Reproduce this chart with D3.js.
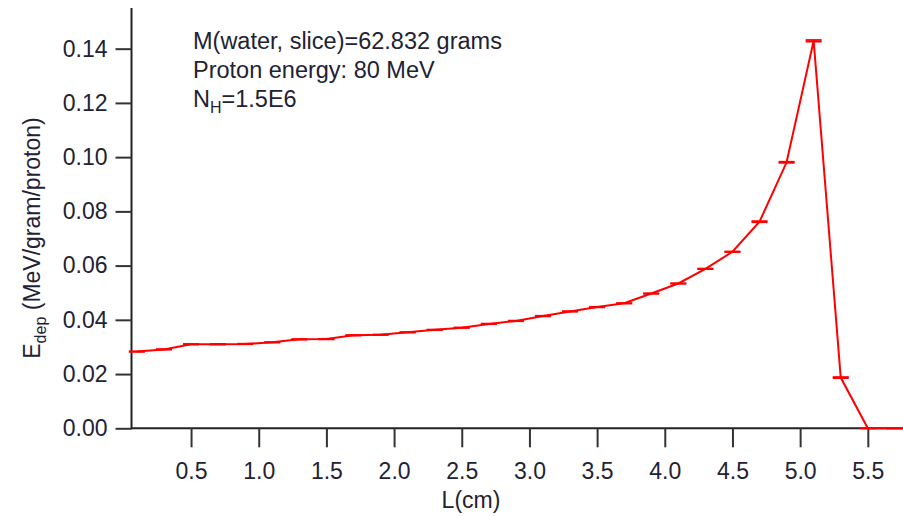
<!DOCTYPE html>
<html>
<head>
<meta charset="utf-8">
<script src="https://cdn.jsdelivr.net/npm/d3@7"></script>
<style>
  html, body { margin: 0; padding: 0; background: #fff; }
  svg { display: block; }
  text { font-family: "Liberation Sans", Arial, sans-serif; fill: #222233; }
</style>
</head>
<body>
<svg id="chart" width="903" height="516"></svg>
<script>
// Depth L (cm) of each slice centre
const depth = [0.1, 0.3, 0.5, 0.7, 0.9, 1.1, 1.3, 1.5, 1.7, 1.9, 2.1, 2.3, 2.5, 2.7, 2.9,
               3.1, 3.3, 3.5, 3.7, 3.9, 4.1, 4.3, 4.5, 4.7, 4.9, 5.1, 5.3, 5.5, 5.7, 5.9];
// Deposited energy (MeV/gram/proton)
const edep = [0.0283, 0.0291, 0.0310, 0.0310, 0.0311, 0.0317, 0.0328, 0.0329, 0.0343, 0.0345,
              0.0354, 0.0363, 0.0371, 0.0385, 0.0396, 0.0414, 0.0431, 0.0447, 0.0461, 0.0497,
              0.0534, 0.0588, 0.0651, 0.0762, 0.0981, 0.1429, 0.0187, 0.0000, 0.0000, 0.0000];
// Statistical error on each value
const edepErr = [0.0001, 0.0001, 0.0001, 0.0001, 0.0001, 0.0001, 0.0001, 0.0001, 0.0001, 0.0001,
                 0.0001, 0.0001, 0.0001, 0.0001, 0.0001, 0.0001, 0.0001, 0.0001, 0.0001, 0.0001,
                 0.0001, 0.0001, 0.0001, 0.0002, 0.0002, 0.0003, 0.0002, 0.0, 0.0, 0.0];
const xTicks = [0.5, 1.0, 1.5, 2.0, 2.5, 3.0, 3.5, 4.0, 4.5, 5.0, 5.5];
const yTicks = [0.00, 0.02, 0.04, 0.06, 0.08, 0.10, 0.12, 0.14];
const annotation = ["M(water, slice)=62.832 grams", "Proton energy: 80 MeV"];

const svg = d3.select("#chart");
const pLeft = 131.5, pRight = 903, pTop = 8, pBottom = 428.3;

const x = d3.scaleLinear().domain([0.06, 5.76]).range([pLeft, pRight]);
const y = d3.scaleLinear().domain([0, 0.155]).range([pBottom, pTop]);

const data = depth.map((d, i) => ({x: d, y: edep[i], e: edepErr[i]}));

// Axes
const xAxis = d3.axisBottom(x).tickValues(xTicks).tickFormat(d3.format(".1f"))
  .tickSize(19).tickPadding(15).tickSizeOuter(0);
const yAxis = d3.axisLeft(y).tickValues(yTicks).tickFormat(d3.format(".2f"))
  .tickSize(16).tickPadding(8).tickSizeOuter(0);

const gx = svg.append("g").attr("transform", `translate(0,${pBottom})`).call(xAxis);
const gy = svg.append("g").attr("transform", `translate(${pLeft},0)`).call(yAxis);
[gx, gy].forEach(g => {
  g.select(".domain").attr("stroke", "#222").attr("stroke-width", 2);
  g.selectAll(".tick line").attr("stroke", "#333").attr("stroke-width", 2);
  g.selectAll(".tick text").style("font-size", "23px").attr("fill", "#222233")
    .style("font-family", "'Liberation Sans', Arial, sans-serif");
});
gx.select(".domain").attr("d", `M${pLeft},0H${pRight}`);
gy.select(".domain").attr("d", `M0,${pTop}V${pBottom + 1}`);

// Data line
svg.append("path")
  .datum(data)
  .attr("fill", "none")
  .attr("stroke", "#ff0000")
  .attr("stroke-width", 2)
  .attr("d", d3.line().x(d => x(d.x)).y(d => y(d.y)));

// Error bars with caps
const eb = svg.append("g").attr("stroke", "#ff0000").attr("stroke-width", 1.8);
data.forEach(d => {
  const cx = x(d.x), y1 = y(d.y + d.e), y2 = y(d.y - d.e);
  eb.append("line").attr("x1", cx).attr("x2", cx).attr("y1", y1).attr("y2", y2);
  eb.append("line").attr("x1", cx - 8).attr("x2", cx + 8).attr("y1", y1).attr("y2", y1);
  eb.append("line").attr("x1", cx - 8).attr("x2", cx + 8).attr("y1", y2).attr("y2", y2);
});

// Axis titles
svg.append("text")
  .attr("x", 471).attr("y", 508)
  .attr("text-anchor", "middle")
  .style("font-size", "23px")
  .text("L(cm)");

const yl = svg.append("text")
  .attr("transform", "translate(40,238) rotate(-90)")
  .attr("text-anchor", "middle")
  .style("font-size", "23px");
yl.append("tspan").text("E");
yl.append("tspan").attr("dy", 6).style("font-size", "16px").text("dep");
yl.append("tspan").attr("dy", -6).text(" (MeV/gram/proton)");

// Annotation
annotation.forEach((t, i) => {
  svg.append("text").attr("x", 193).attr("y", 49 + i * 29)
    .style("font-size", "23.5px").text(t);
});
const nh = svg.append("text").attr("x", 193).attr("y", 107).style("font-size", "23.5px");
nh.append("tspan").text("N");
nh.append("tspan").attr("dy", 6).style("font-size", "16px").text("H");
nh.append("tspan").attr("dy", -6).text("=1.5E6");
</script>
</body>
</html>
